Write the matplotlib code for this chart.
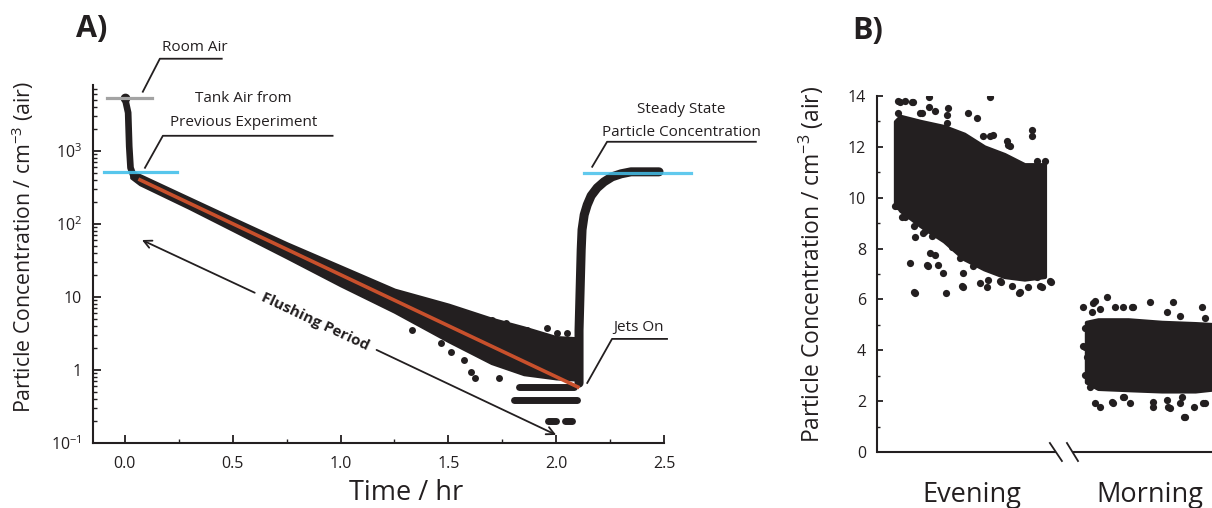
import matplotlib
matplotlib.use('Agg')
import matplotlib.pyplot as plt
import numpy as np
from matplotlib.ticker import FixedLocator, FixedFormatter, NullFormatter, LogLocator

plt.rcParams['font.family'] = ['Open Sans', 'DejaVu Sans']
plt.rcParams['mathtext.fontset'] = 'custom'
plt.rcParams['mathtext.rm'] = 'Open Sans'
plt.rcParams['mathtext.it'] = 'Open Sans:italic'
plt.rcParams['mathtext.bf'] = 'Open Sans:bold'

INK = '#231f20'
RED = '#c8502c'
BLUE = '#45c0ea'
GREY = '#a3a3a3'

# ---------------- Panel A data (time in hr, concentration per cm^3) ----------------
room_air_level = 5300
tank_air_level = 515
steady_level = 490

drop_t = [0.0, 0.015, 0.02, 0.026, 0.038, 0.062]
drop_c = [5270, 3320, 1146, 585, 469, 427]

band_t = [0.03, 0.07, 0.3, 0.5, 0.75, 1.0, 1.25, 1.5, 1.7, 1.85, 2.0, 2.1]
band_hi = [520, 460, 222, 118, 54, 26, 12.5, 7.8, 5.0, 3.8, 2.8, 2.7]
band_lo = [430, 350, 165, 83, 35, 14.5, 6.3, 2.5, 1.25, 0.88, 0.77, 0.74]

outlier_t = [1.333, 1.514, 1.574, 1.606, 1.625, 1.468, 1.736,
             1.958, 2.005, 2.051, 1.866, 1.769, 1.704]
outlier_c = [3.53, 1.77, 1.37, 0.94, 0.78, 2.34, 0.78,
             3.76, 3.21, 3.21, 3.53, 4.4, 4.84]

row_levels = [0.58, 0.39, 0.20, 0.20]
row_start = [1.827, 1.806, 1.960, 2.042]
row_end = [2.083, 2.098, 1.998, 2.075]

rise_t = [2.106, 2.106, 2.111, 2.116, 2.120, 2.13, 2.144, 2.162, 2.190, 2.222, 2.259, 2.301, 2.347, 2.477]
rise_c = [0.66, 3.5, 12.5, 44, 83, 133, 182, 242, 311, 376, 440, 484, 515, 515]

fit_t = [0.07, 2.10]
fit_c = [400, 0.585]

xticks_A = [0.0, 0.5, 1.0, 1.5, 2.0, 2.5]
xticklabels_A = ['0.0', '0.5', '1.0', '1.5', '2.0', '2.5']
yticks_A = [0.1, 1, 10, 100, 1000]
yticklabels_A = [r'$\mathregular{10^{-1}}$', '1', '10', r'$\mathregular{10^{2}}$', r'$\mathregular{10^{3}}$']

# ---------------- Panel B data (arbitrary x position, concentration) ----------------
evening_core_u = [0.55, 0.7, 1.3, 2.0, 2.6, 3.2, 3.8, 4.4, 5.0]
evening_core_hi = [13.0, 13.2, 13.0, 12.8, 12.5, 12.0, 11.7, 11.3, 11.3]
evening_core_lo = [9.8, 9.5, 8.9, 8.3, 7.6, 7.2, 6.9, 6.8, 6.9]
evening_u = [0.64, 0.84, 1.07, 1.56, 3.37, 1.56, 2.73, 2.98, 2.13, 2.08, 1.33,
             4.62, 4.62, 3.87, 3.97, 3.37, 5.01, 0.59, 0.74, 1.13, 1.43,
             0.985, 1.13, 2.05, 1.51, 2.58, 3.70, 4.25, 4.92, 5.19, 3.27,
             4.52, 1.83, 1.98, 2.88, 4.77,
             0.69, 1.04, 1.73, 0.64, 1.28, 2.08, 3.17, 3.47, 3.92, 4.77,
             0.54, 0.84, 1.09, 1.38, 1.63, 1.88, 1.48, 1.58, 1.73, 1.09,
             2.53, 3.07, 3.32, 3.67, 4.02, 4.27, 4.87, 5.16, 2.58, 2.48, 2.23]
evening_v = [13.79, 13.79, 13.75, 13.95, 13.95, 13.55, 13.33, 13.14, 13.53, 13.27, 13.33,
             12.65, 12.44, 12.22, 12.02, 12.44, 11.43, 9.66, 9.26, 8.45, 8.71,
             7.45, 6.27, 6.27, 7.30, 6.48, 6.68, 6.27, 6.47, 6.68, 6.48,
             6.47, 7.36, 7.03, 7.30, 6.90,
             13.75, 13.75, 13.4, 13.33, 13.33, 12.94, 12.41, 12.48, 12.09, 11.43,
             9.66, 9.26, 8.87, 8.61, 8.48, 8.61, 7.36, 7.82, 7.76, 6.31,
             6.51, 6.64, 6.77, 6.71, 6.51, 6.31, 6.51, 6.71, 7.03, 7.62, 8.08]

morning_core_u = [6.25, 6.6, 7.5, 8.5, 9.5, 10.2]
morning_core_hi = [5.1, 5.2, 5.2, 5.1, 5.05, 5.0]
morning_core_lo = [2.75, 2.5, 2.45, 2.4, 2.4, 2.5]
morning_u = [6.16, 6.46, 6.86, 7.10, 7.35, 7.63, 8.15, 8.85, 9.69, 6.66, 6.41,
             6.21, 6.21, 6.36, 6.51, 6.66, 7.03, 7.55, 8.23, 8.70, 9.15, 9.45,
             9.79, 7.35, 9.04, 9.09,
             6.51, 7.60, 8.65, 9.04, 9.79, 6.16, 7.01, 7.36, 8.25, 8.65, 8.75,
             9.19, 9.74, 6.26, 6.21]
morning_v = [5.70, 5.85, 6.08, 5.70, 5.70, 5.70, 5.88, 5.88, 5.70, 5.62, 5.52,
             4.89, 4.11, 2.57, 1.92, 1.76, 1.94, 1.94, 1.76, 1.78, 1.37, 1.78,
             1.94, 2.18, 1.94, 2.18,
             5.92, 5.72, 5.52, 5.33, 5.26, 4.15, 1.98, 2.18, 1.98, 2.05, 1.72,
             1.39, 1.92, 3.75, 3.03]

group_labels = ['Evening', 'Morning']
group_label_pos = [2.84, 8.15]
yticks_B = [0, 2, 4, 6, 8, 10, 12, 14]

# ---------------- Figure ----------------
W, H = 1212, 508
fig = plt.figure(figsize=(W / 100, H / 100), dpi=100)


def F(x, y):
    return x / W, 1 - y / H


axA = fig.add_axes([93 / W, 1 - 443 / H, (664 - 93) / W, (443 - 85) / H])
axA.set_yscale('log')
axA.set_xlim(-0.148, 2.5)
axA.set_ylim(0.1, 7950)
for s in ['top', 'right']:
    axA.spines[s].set_visible(False)
for s in ['left', 'bottom']:
    axA.spines[s].set_linewidth(1.5)
    axA.spines[s].set_color(INK)

axA.xaxis.set_major_locator(FixedLocator(xticks_A))
axA.xaxis.set_major_formatter(FixedFormatter(xticklabels_A))
axA.xaxis.set_minor_locator(FixedLocator([0.25, 0.75, 1.25, 1.75, 2.25]))
axA.yaxis.set_major_locator(FixedLocator(yticks_A))
axA.yaxis.set_major_formatter(FixedFormatter(yticklabels_A))
axA.yaxis.set_minor_locator(LogLocator(base=10, subs=np.arange(2, 10), numticks=20))
axA.yaxis.set_minor_formatter(NullFormatter())
axA.tick_params(which='major', direction='in', length=6, width=1.3, color=INK,
                labelsize=11.5, labelcolor=INK, pad=8)
axA.tick_params(which='minor', direction='in', length=3, width=1.0, color=INK)
axA.tick_params(axis='x', which='major', pad=9)

# data
axA.fill_between(band_t, band_lo, band_hi, color=INK, lw=2.5, edgecolor=INK, joinstyle='round', zorder=3)
axA.plot(drop_t, drop_c, color=INK, lw=4.8, solid_capstyle='round', solid_joinstyle='round', zorder=3)
axA.plot(drop_t[:1], drop_c[:1], 'o', color=INK, ms=6, zorder=3)
axA.plot(rise_t, rise_c, color=INK, lw=6.5, solid_capstyle='round', solid_joinstyle='round', zorder=3)
axA.scatter(outlier_t, outlier_c, s=25, color=INK, lw=0, zorder=3)
for lev, a, b in zip(row_levels, row_start, row_end):
    axA.plot([a, b], [lev, lev], color=INK, lw=5, solid_capstyle='round', zorder=3)
axA.plot(fit_t, fit_c, color=RED, lw=2.6, zorder=4)

axA.plot([-0.083, 0.125], [room_air_level] * 2, color=GREY, lw=2.3, zorder=5, clip_on=False)
axA.plot([-0.097, 0.24], [tank_air_level] * 2, color=BLUE, lw=2.3, alpha=0.9, zorder=5, clip_on=False)
axA.plot([2.13, 2.625], [steady_level] * 2, color=BLUE, lw=2.3, alpha=0.85, zorder=5, clip_on=False)

# annotations
ann_kw = dict(color=INK, lw=1.3, clip_on=False, zorder=6)
axA.plot([0.083, 0.162, 0.449], [6430, 18200, 18200], **ann_kw)
axA.text(0.324, 25700, 'Room Air', ha='center', va='center', fontsize=11, color=INK, clip_on=False)
axA.plot([0.093, 0.176, 0.963], [585, 1604, 1604], **ann_kw)
axA.text(0.551, 5150, 'Tank Air from', ha='center', va='center', fontsize=11, color=INK)
axA.text(0.551, 2420, 'Previous Experiment', ha='center', va='center', fontsize=11, color=INK)
axA.plot([2.167, 2.236, 2.926], [604, 1328, 1328], **ann_kw)
axA.text(2.579, 3648, 'Steady State', ha='center', va='center', fontsize=11, color=INK, clip_on=False)
axA.text(2.579, 1765, 'Particle Concentration', ha='center', va='center', fontsize=11, color=INK, clip_on=False)
axA.plot([2.144, 2.259, 2.514], [0.664, 2.66, 2.66], **ann_kw)
axA.text(2.384, 3.76, 'Jets On', ha='center', va='center', fontsize=11, color=INK, clip_on=False)

arr = dict(arrowstyle='->', lw=1.3, color=INK, shrinkA=0, shrinkB=0, mutation_scale=14)
axA.annotate('', xy=(0.079, 60), xytext=(0.602, 11.4), arrowprops=arr)
axA.annotate('', xy=(2.0, 0.129), xytext=(1.167, 1.88), arrowprops=arr)
fig.canvas.draw()
p1 = axA.transData.transform((0.079, 60))
p2 = axA.transData.transform((2.0, 0.129))
ang = np.degrees(np.arctan2(p2[1] - p1[1], p2[0] - p1[0]))
axA.text(0.884, 4.54, 'Flushing Period', rotation=ang, rotation_mode='anchor',
         ha='center', va='center', fontsize=11, fontweight='bold', color=INK)

fig.text(*F(23, 247), r'Particle Concentration / cm$^{\mathregular{-3}}$ (air)', rotation=90,
         ha='center', va='center', fontsize=15.3, color=INK)
fig.text(*F(406, 493), 'Time / hr', ha='center', va='center', fontsize=19.5, color=INK)
fig.text(*F(92, 29), 'A)', ha='center', va='center', fontsize=22, fontweight='bold', color=INK)

# ---------------- Panel B ----------------
axB = fig.add_axes([877 / W, 1 - 452 / H, (1212 - 877) / W, (452 - 96) / H])
axB.set_xlim(0, 10)
axB.set_ylim(0, 14)
for s in ['top', 'right', 'bottom']:
    axB.spines[s].set_visible(False)
axB.spines['left'].set_linewidth(1.5)
axB.spines['left'].set_color(INK)
axB.set_xticks([])
axB.set_yticks(yticks_B)
axB.set_yticklabels([str(v) for v in yticks_B])
axB.yaxis.set_minor_locator(FixedLocator([1, 3, 5, 7, 9, 11, 13]))
axB.tick_params(axis='y', which='major', direction='in', length=4.5, width=1.3, color=INK,
                labelsize=11.5, labelcolor=INK, pad=8)
axB.tick_params(axis='y', which='minor', direction='in', length=2.5, width=1.0, color=INK)

axB.fill_between(evening_core_u, evening_core_lo, evening_core_hi, color=INK, lw=3, edgecolor=INK,
                 joinstyle='round', zorder=3)
axB.scatter(evening_u, evening_v, s=27, color=INK, lw=0, zorder=3)
axB.fill_between(morning_core_u, morning_core_lo, morning_core_hi, color=INK, lw=3, edgecolor=INK,
                 joinstyle='round', zorder=3)
axB.scatter(morning_u, morning_v, s=27, color=INK, lw=0, zorder=3)

# broken bottom axis
axB.plot([0, 5.34], [0, 0], color=INK, lw=1.5, clip_on=False, solid_capstyle='butt')
axB.plot([5.82, 10], [0, 0], color=INK, lw=1.5, clip_on=False, solid_capstyle='butt')
axB.plot([5.16, 5.52], [0.354, -0.354], color=INK, lw=1.3, clip_on=False)
axB.plot([5.67, 6.00], [0.354, -0.354], color=INK, lw=1.3, clip_on=False)

for lab, pos in zip(group_labels, group_label_pos):
    axB.text(pos, -1.69, lab, ha='center', va='center', fontsize=19.5, color=INK, clip_on=False)

fig.text(*F(811, 264), r'Particle Concentration / cm$^{\mathregular{-3}}$ (air)', rotation=90,
         ha='center', va='center', fontsize=16.5, color=INK)
fig.text(*F(868, 31), 'B)', ha='center', va='center', fontsize=22, fontweight='bold', color=INK)

fig.savefig('out.png', dpi=100)
